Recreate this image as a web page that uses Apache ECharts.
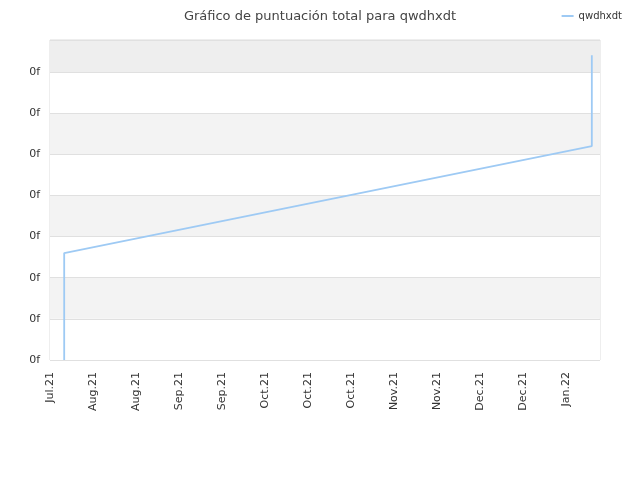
<!DOCTYPE html>
<html><head><meta charset="utf-8">
<script src="https://cdn.jsdelivr.net/npm/echarts@6/dist/echarts.min.js"></script>
<style>html,body{margin:0;padding:0;background:#fff}#c{width:640px;height:480px}</style>
</head><body><div id="c"></div>
<script>
var tickLabels = ['Jul.21','Aug.21','Aug.21','Sep.21','Sep.21','Oct.21','Oct.21','Oct.21','Nov.21','Nov.21','Dec.21','Dec.21','Jan.22'];
var seriesName = 'qwdhxdt';
var xValues = [0.33, 0.33, 12.6, 12.6];
var yValues = [0, 2.6, 5.2, 7.41];

var chart = echarts.init(document.getElementById('c'));
chart.setOption({
  animation: false,
  title: {text: 'Gráfico de puntuación total para qwdhxdt', left: 'center', top: 5,
    textStyle: {fontFamily: 'DejaVu Sans', fontSize: 13, fontWeight: 'normal', color: '#444'}},
  legend: {right: 13, top: 6, itemWidth: 12, itemHeight: 2, itemGap: 5,
    textStyle: {fontFamily: 'DejaVu Sans', fontSize: 10, color: '#333'},
    data: [{name: seriesName, icon: 'rect'}]},
  grid: {left: 50, right: 40, top: 40, bottom: 120, containLabel: false, show: true, borderColor: '#ddd', borderWidth: 1},
  xAxis: {type: 'value', min: 0, max: 12.79, interval: 1,
    axisLine: {show: false}, axisTick: {show: false}, splitLine: {show: false},
    axisLabel: {rotate: 90, fontFamily: 'DejaVu Sans', fontSize: 11, color: '#333', margin: 12,
      showMaxLabel: false,
      formatter: function (v) { var i = Math.round(v); return tickLabels[i] || ''; }}},
  yAxis: {type: 'value', min: 0, max: 7.78, interval: 1,
    axisLine: {show: false}, axisTick: {show: false},
    splitLine: {show: true, lineStyle: {color: '#e0e0e0'}},
    splitArea: {show: true, areaStyle: {color: ['#ffffff','#f3f3f3','#ffffff','#f3f3f3','#ffffff','#f3f3f3','#ffffff','#eeeeee']}},
    axisLabel: {showMaxLabel: false, fontFamily: 'DejaVu Sans', fontSize: 11, color: '#333', margin: 10,
      formatter: function () { return '0f'; }}},
  series: [{name: seriesName, type: 'line', showSymbol: false, symbol: 'none',
    lineStyle: {color: '#9ecaf4', width: 1.8}, itemStyle: {color: '#9ecaf4'},
    data: xValues.map(function (x, i) { return [x, yValues[i]]; })}]
});
</script></body></html>
